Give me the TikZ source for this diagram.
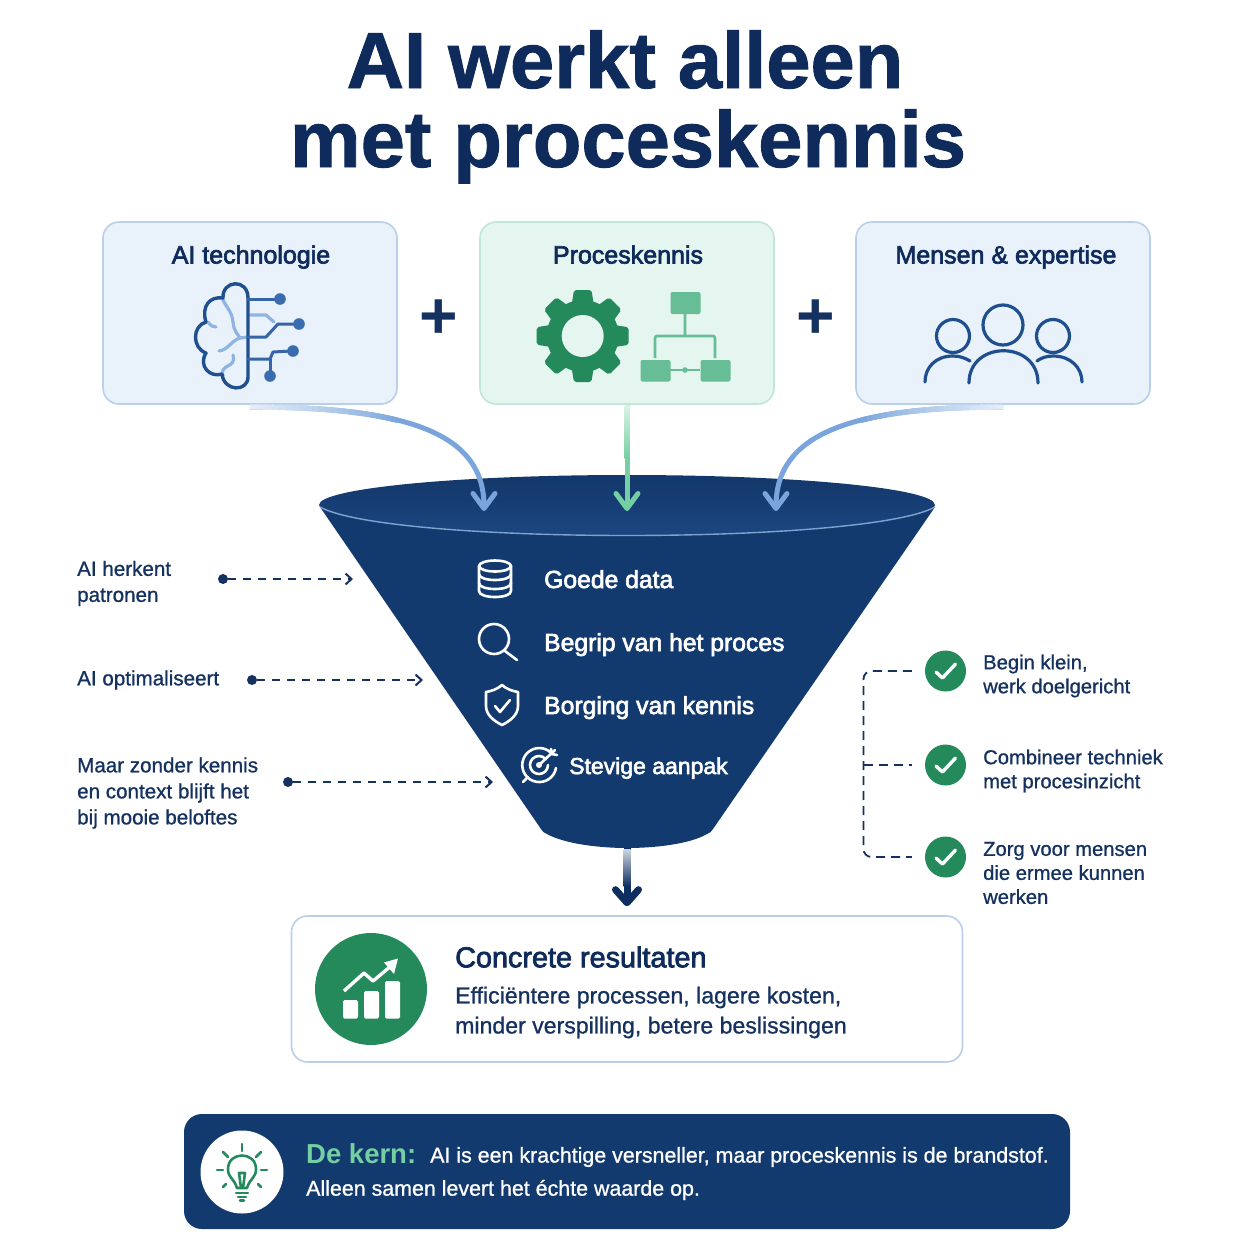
\documentclass[tikz,border=0pt]{standalone}
\usepackage{fontspec}
\setmainfont{Liberation Sans}
\newfontfamily\semi[FakeBold=2.6]{Liberation Sans}
\newfontfamily\med[FakeBold=0.9]{Liberation Sans}
\newfontfamily\heavy[BoldFeatures={FakeBold=1.2}]{Liberation Sans}
\usetikzlibrary{arrows.meta,shapes.geometric}
\definecolor{titlenavy}{HTML}{0E2B5C}
\definecolor{navy}{HTML}{14315F}
\definecolor{funnelblue}{HTML}{123A6E}
\definecolor{funneltopa}{HTML}{13376A}
\definecolor{funneltopb}{HTML}{1B4680}
\definecolor{rim}{HTML}{7FA3CF}
\definecolor{bluefill}{HTML}{E9F1FB}
\definecolor{blueline}{HTML}{B9CFEA}
\definecolor{greenfill}{HTML}{E5F5EF}
\definecolor{greenline}{HTML}{C0E7D7}
\definecolor{gdark}{HTML}{248A5C}
\definecolor{gmid}{HTML}{66BD96}
\definecolor{garrow}{HTML}{74CFA2}
\definecolor{barrow}{HTML}{79A5DC}
\definecolor{brainline}{HTML}{1F4F8F}
\definecolor{brainlight}{HTML}{8FB4E0}
\definecolor{dotblue}{HTML}{3A6BAE}
\newcommand{\fadeover}[8]{%
  \foreach \i in {0,...,23}{%
    \pgfmathsetmacro{\ta}{\i*0.0165}%
    \pgfmathsetmacro{\tb}{(\i+1.3)*0.0165}%
    \pgfmathsetmacro{\xa}{(1-\ta)^3*#1+3*(1-\ta)^2*\ta*#3+3*(1-\ta)*\ta^2*#5+\ta^3*#7}%
    \pgfmathsetmacro{\ya}{(1-\ta)^3*#2+3*(1-\ta)^2*\ta*#4+3*(1-\ta)*\ta^2*#6+\ta^3*#8}%
    \pgfmathsetmacro{\xb}{(1-\tb)^3*#1+3*(1-\tb)^2*\tb*#3+3*(1-\tb)*\tb^2*#5+\tb^3*#7}%
    \pgfmathsetmacro{\yb}{(1-\tb)^3*#2+3*(1-\tb)^2*\tb*#4+3*(1-\tb)*\tb^2*#6+\tb^3*#8}%
    \pgfmathsetmacro{\pct}{20+80*\i/24}%
    \draw[barrow!\pct!white,line width=5.4pt] (\xa,\ya) -- (\xb,\yb);
  }}
\tikzset{
  x=1pt,y=-1pt,
  cardbox/.style={draw=blueline,fill=bluefill,line width=1.6pt,rounded corners=16pt,minimum width=294pt,minimum height=182pt},
  greencard/.style={cardbox,draw=greenline,fill=greenfill},
  cardtitle/.style={font=\fontsize{25}{30}\semi,text=titlenavy,inner sep=0pt,anchor=base},
  maintitle/.style={font=\fontsize{79.5}{88}\heavy\bfseries,text=titlenavy,inner sep=0pt,anchor=base},
  plussign/.style={font=\fontsize{66}{66}\selectfont\bfseries,text=navy,inner sep=0pt},
  flowarrow/.style={line width=5pt,-{Straight Barb[round,length=15pt,width=22pt,line width=5pt]}},
  funneltext/.style={font=\fontsize{24.7}{28}\semi,text=white,anchor=base west,inner sep=0pt},
  sidetext/.style={font=\fontsize{20.6}{26}\med,text=navy,anchor=west,align=left,inner sep=0pt},
  righttext/.style={font=\fontsize{20.2}{24}\med,text=navy,anchor=west,align=left,inner sep=0pt},
  hintdot/.style={circle,fill=navy,minimum size=10pt,inner sep=0pt},
  hintarrow/.style={navy,line width=2pt,dash pattern=on 8pt off 7pt,-{Straight Barb[length=6pt,width=11pt,line width=2pt]}},
  checkdot/.style={circle,fill=gdark,minimum size=41pt,inner sep=0pt},
  checkmark/.style={white,line width=3.4pt,line cap=round,line join=round},
  iconwhite/.style={white,line width=2.6pt,line cap=round,line join=round},
}
\begin{document}
\begin{tikzpicture}
\useasboundingbox (0,0) rectangle (1254,1254);
\fill[white] (0,0) rectangle (1254,1254);
% title
\node[maintitle] (t1) at (625,88) {AI werkt alleen};
\node[maintitle] (t2) at (628,167) {met proceskennis};
% cards
\node[cardbox] (ai) at (250,313) {};
\node[greencard] (pk) at (627,313) {};
\node[cardbox] (me) at (1003,313) {};
\coordinate (aibot) at (250,407);
\coordinate (mebot) at (1003,407);
\coordinate (in1) at (484,511);
\coordinate (in2) at (627,511);
\coordinate (in3) at (776,511);
\node[cardtitle] (ait) at (251,263.5) {AI technologie};
\node[cardtitle] (pkt) at (628,263.5) {Proceskennis};
\node[cardtitle] (met) at (1006,263.5) {Mensen \& expertise};
\node[plussign] (p1) at (438.5,319) {+};
\node[plussign] (p2) at (815.5,319) {+};
% brain icon
\begin{scope}[line cap=round,line join=round]
\draw[brainlight,line width=3.2pt] (223,300) .. controls (227,308) and (232,312) .. (233,322) .. controls (234,332) and (238,334) .. (240,338) -- (248,337);
\draw[brainlight,line width=3.2pt] (240,338) .. controls (232,340) and (228,350) .. (219,351);
\draw[brainlight,line width=3.2pt] (233,355) .. controls (235,362) and (232,364) .. (226,367) .. controls (222,370) and (222,372) .. (223,376);
\draw[brainlight,line width=3.2pt] (208,322) .. controls (211,326) and (213,327) .. (216,327);
\draw[brainlight,line width=3.2pt] (250,315) -- (266,315) -- (274,322);
\draw[brainline,line width=3.4pt]
 (248,377) -- (248,298) .. controls (248,278) and (222,280) .. (223,298)
 .. controls (210,296) and (201,306) .. (206,322)
 .. controls (192,326) and (192,348) .. (206,353)
 .. controls (198,366) and (210,378) .. (222,374)
 .. controls (224,392) and (248,392) .. (248,377);
\draw[dotblue!80!brainline,line width=3pt] (248,299) -- (278,299);
\draw[dotblue!80!brainline,line width=3pt] (248,337) -- (266,337) -- (278,324) -- (297,324);
\draw[dotblue!80!brainline,line width=3pt] (248,359) -- (270,359) -- (273,352) -- (291,351);
\draw[dotblue!80!brainline,line width=3pt] (270,359) -- (270,376);
\fill[dotblue] (280,299) circle[radius=5.8] (299,324) circle[radius=5.8] (293,351) circle[radius=5.8] (270,376) circle[radius=5.8];
\end{scope}
% gear icon
\foreach \a in {0,45,...,315}{
  \fill[gdark,rounded corners=2pt,rotate around={\a:(582.7,336)}] (574,290) -- (591.5,290) -- (595,312) -- (570.5,312) -- cycle;
}
\fill[gdark] (582.7,336) circle[radius=36];
\fill[greenfill] (582.7,336) circle[radius=21];
% flow icon
\draw[gmid,line width=2.6pt,rounded corners=2pt] (685,312) -- (685,336) (655,358) -- (655,336) -- (715,336) -- (715,358);
\draw[gmid,line width=2.6pt] (670,370) -- (700,370);
\fill[gmid] (685,370) circle[radius=2.8];
\fill[gmid,rounded corners=2pt] (670.5,292) rectangle (700.5,314);
\fill[gmid,rounded corners=2pt] (640.5,360) rectangle (670.5,381.5);
\fill[gmid,rounded corners=2pt] (700.5,360) rectangle (730.5,381.5);
% people icon
\begin{scope}[brainline,line width=3.2pt,line cap=round]
\draw (1003,325) circle[radius=20];
\draw (953,336) circle[radius=16.5];
\draw (1053,336) circle[radius=16.5];
\draw (969,383) .. controls (969,340) and (1038,340) .. (1038,383);
\draw (925,382) .. controls (925,368) and (935,356) .. (953,356) .. controls (960,356) and (965,358) .. (970,361);
\draw (1082,382) .. controls (1082,368) and (1071,356) .. (1053,356) .. controls (1046,356) and (1041,358) .. (1037,361);
\end{scope}
% funnel
\fill[funnelblue] (320,507) -- (541,829) .. controls (543,832) and (544,833) .. (547,834)
  .. controls (565,844) and (600,848) .. (627,848)
  .. controls (655,848) and (690,844) .. (707,834) .. controls (710,833) and (711,832) .. (713,829) -- (935,507) -- cycle;
\node[ellipse,top color=funneltopa,bottom color=funneltopb,draw=none,minimum width=616pt,minimum height=60pt,inner sep=0pt] (fn) at (627,505) {};
\draw[rim,line width=1.4pt] (320,507) .. controls (390,545) and (865,545) .. (935,507);
% flow arrows
\draw[flowarrow,barrow] (aibot) .. controls (400,407) and (484,430) .. (in1);
\fadeover{250}{407}{400}{407}{484}{430}{484}{511}
\draw[flowarrow,garrow] (pk.south) -- (in2);
\shade[top color=garrow!25,bottom color=garrow] (624.5,405) rectangle (629.5,458);
\draw[flowarrow,barrow] (mebot) .. controls (860,407) and (776,430) .. (in3);
\fadeover{1003}{407}{860}{407}{776}{430}{776}{511}
% funnel items
\begin{scope}[iconwhite]
\draw (479,566) arc[start angle=180,end angle=-180,x radius=16,y radius=5.5];
\draw (479,566) -- (479,591) .. controls (479,599) and (511,599) .. (511,591) -- (511,566);
\draw (479,574) .. controls (479,582) and (511,582) .. (511,574);
\draw (479,583) .. controls (479,591) and (511,591) .. (511,583);
\draw (494,639) circle[radius=15];
\draw (505,651) -- (517,660);
\draw (502,685) .. controls (508,690) and (513,691) .. (518,692) -- (518,706) .. controls (518,715) and (510,721) .. (502,725) .. controls (494,721) and (486,715) .. (486,706) -- (486,692) .. controls (491,691) and (496,690) .. (502,685) -- cycle;
\draw (495,706) -- (500,712) -- (510,700);
\draw (556,768) arc[start angle=10,end angle=320,radius=17];
\draw (548,765) arc[start angle=0,end angle=320,radius=9];
\fill[white] (539,765) circle[radius=3];
\draw (539,765) -- (555,750);
\draw (551,749) -- (552,754) -- (557,755);
\draw (523,782) -- (528,777);
\end{scope}
\node[funneltext] (f1) at (544,588) {Goede data};
\node[funneltext] (f2) at (544,651) {Begrip van het proces};
\node[funneltext] (f3) at (544,714) {Borging van kennis};
\node[funneltext,font=\fontsize{23}{28}\semi] (f4) at (569,774) {Stevige aanpak};
% left notes
\node[sidetext] (n1) at (77,583.5) {AI herkent\\patronen};
\node[sidetext] (n2) at (77,680) {AI optimaliseert};
\node[sidetext] (n3) at (77,793) {Maar zonder kennis\\en context blijft het\\bij mooie beloftes};
\node[hintdot] (d1) at (223,579) {};
\node[hintdot] (d2) at (252,680) {};
\node[hintdot] (d3) at (288,782) {};
\coordinate (e1) at (353,579);
\coordinate (e2) at (423,680);
\coordinate (e3) at (493,782);
\draw[hintarrow] (d1) -- (e1);
\draw[hintarrow] (d2) -- (e2);
\draw[hintarrow] (d3) -- (e3);
% right notes
\node[checkdot] (c1) at (945.5,671) {};
\node[checkdot] (c2) at (945.5,765) {};
\node[checkdot] (c3) at (945.5,857) {};
\foreach \n in {c1,c2,c3}{
  \draw[checkmark] ([shift={(-9.5,1)}]\n.center) -- ([shift={(-3,7)}]\n.center) -- ([shift={(10,-7)}]\n.center);
}
\draw[navy,line width=1.8pt,dash pattern=on 9pt off 6pt,rounded corners=8pt] ([xshift=-13]c1.west) -- (863.5,671) -- (863.5,857) -- ([xshift=-13]c3.west);
\draw[navy,line width=1.8pt,dash pattern=on 9pt off 6pt] (863.5,765) -- ([xshift=-13]c2.west);
\node[righttext] (r1) at (983,676) {Begin klein,\\werk doelgericht};
\node[righttext] (r2) at (983,771) {Combineer techniek\\met procesinzicht};
\node[righttext] (r3) at (983,873) {Zorg voor mensen\\die ermee kunnen\\werken};
% output box and arrow
\node[draw=blueline,fill=white,line width=1.6pt,rounded corners=16pt,minimum width=671pt,minimum height=146pt] (res) at (627,989) {};
\draw[titlenavy!80!funnelblue,line width=7pt,shorten >=9pt,-{Straight Barb[round,length=13pt,width=23pt,line width=7pt]}] (627,848) -- (res.north);
\shade[top color=funnelblue!20,bottom color=titlenavy!80!funnelblue] (623.5,849) rectangle (630.5,886);
\node[circle,fill=gdark,minimum size=112pt,inner sep=0pt] (rc) at (371,989) {};
\begin{scope}
\fill[white,rounded corners=1.5pt] (343,1000) rectangle (358,1018.5);
\fill[white,rounded corners=1.5pt] (364,991) rectangle (379,1018.5);
\fill[white,rounded corners=1.5pt] (385,981) rectangle (400,1018.5);
\draw[white,line width=3.4pt,line join=round] (344,991) -- (364,973) -- (373,981) -- (391,966);
\fill[white] (398,958.5) -- (394,974) -- (384,962.5) -- cycle;
\end{scope}
\node[font=\fontsize{28.8}{32}\semi,text=titlenavy,anchor=west,inner sep=0pt] (rt) at (455,957) {Concrete resultaten};
\node[font=\fontsize{23.1}{30}\med,text=navy,anchor=west,align=left,inner sep=0pt] (rb) at (455,1012.5) {Efficiëntere processen, lagere kosten,\\minder verspilling, betere beslissingen};
% core bar
\node[fill=funnelblue,rounded corners=18pt,minimum width=886pt,minimum height=115pt,inner sep=0pt] (core) at (627,1171.5) {};
\node[circle,fill=white,minimum size=83pt,inner sep=0pt] (cc) at (242,1172) {};
\begin{scope}[gdark,line width=2.6pt,line cap=round,line join=round]
\draw (237,1188) .. controls (234,1178) and (228,1178) .. (228,1169) .. controls (228,1151) and (256,1151) .. (256,1169) .. controls (256,1178) and (250,1178) .. (247,1188) -- cycle;
\draw (236,1193) -- (248,1193) (238,1197) -- (246,1197) (240,1200.5) -- (244,1200.5);
\draw (241,1188) -- (239,1173) -- (245,1173) -- (243,1188);
\draw (242,1144) -- (242,1151);
\draw (223,1152) -- (228,1157) (261,1152) -- (256,1157);
\draw (217,1170) -- (223,1170) (261,1170) -- (267,1170);
\draw (223,1187) -- (226,1184) (261,1187) -- (258,1184);
\end{scope}
\node[font=\fontsize{27.5}{30}\selectfont\bfseries,text=garrow,anchor=west,inner sep=0pt] (k1) at (306,1154) {De kern:};
\node[font=\fontsize{21.4}{26}\med,text=white,anchor=west,inner sep=0pt] (k2) at (430,1157) {AI is een krachtige versneller, maar proceskennis is de brandstof.};
\node[font=\fontsize{21.4}{26}\med,text=white,anchor=west,inner sep=0pt] (k3) at (306,1190) {Alleen samen levert het échte waarde op.};
\end{tikzpicture}
\end{document}
